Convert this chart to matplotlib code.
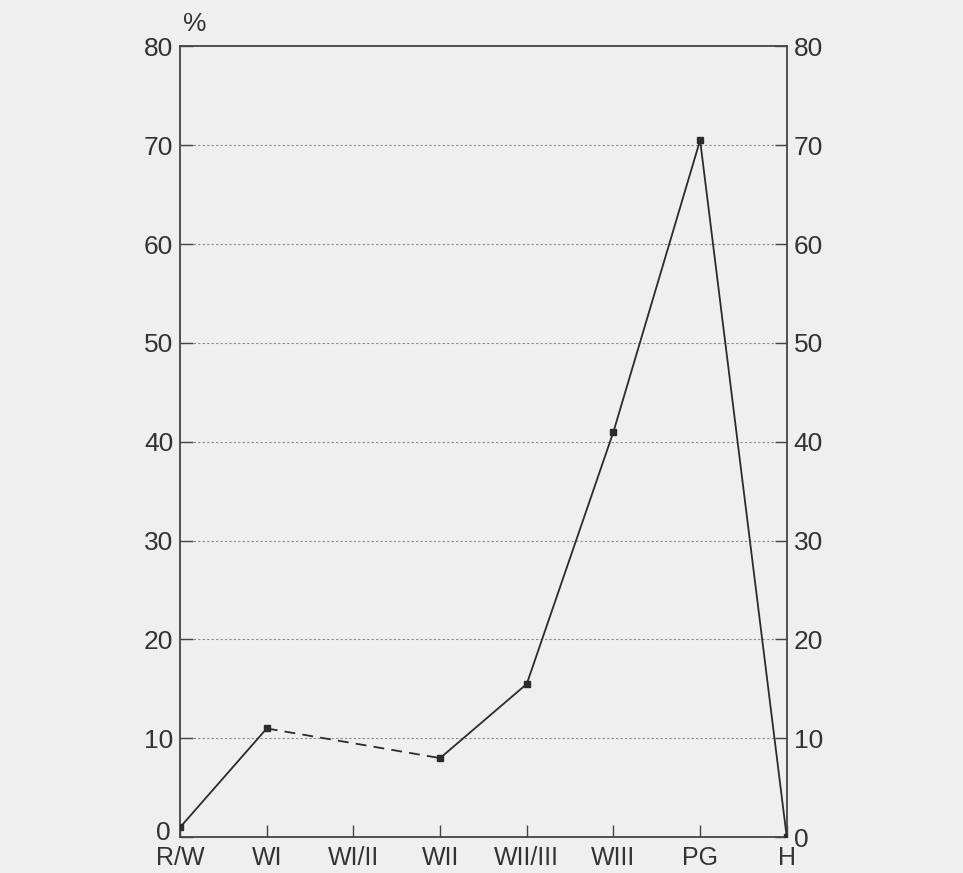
import matplotlib
matplotlib.use('Agg')
import matplotlib.pyplot as plt
from matplotlib.transforms import ScaledTranslation

plt.rcParams['font.family'] = ['Liberation Sans', 'DejaVu Sans']

# categories along the x axis
categories = ['R/W', 'WI', 'WI/II', 'WII', 'WII/III', 'WIII', 'PG', 'H']

# measured points (category, percent)
solid_a_cats = ['R/W', 'WI']
solid_a_vals = [1, 11]
dashed_cats = ['WI', 'WII']
dashed_vals = [11, 8]
solid_b_cats = ['WII', 'WII/III', 'WIII', 'PG', 'H']
solid_b_vals = [8, 15.5, 41, 70.5, 0]

y_ticks = [0, 10, 20, 30, 40, 50, 60, 70, 80]

bg = '#efefef'
ink = '#2b2b2b'

fig = plt.figure(figsize=(9.63, 8.73), dpi=100, facecolor=bg)
ax = fig.add_axes([0.187, 0.041, 0.630, 0.906], facecolor=bg)

pos = {c: i for i, c in enumerate(categories)}

# dotted grid lines
for v in y_ticks[1:-1]:
    ax.axhline(v, color='#8a8a8a', lw=0.8, ls=(0, (2, 2)), zorder=1)

ax.plot([pos[c] for c in solid_a_cats], solid_a_vals, color=ink, lw=1.3,
        marker='s', ms=4, zorder=3)
ax.plot([pos[c] for c in dashed_cats], dashed_vals, color=ink, lw=1.3,
        ls=(0, (6, 4)), zorder=3)
ax.plot([pos[c] for c in solid_b_cats], solid_b_vals, color=ink, lw=1.3,
        marker='s', ms=4, zorder=3)

ax.set_xlim(0, len(categories) - 1)
ax.set_ylim(0, 80)
ax.set_xticks(range(len(categories)))
ax.set_xticklabels(categories)
ax.set_yticks(y_ticks)

for s in ax.spines.values():
    s.set_color('#444444')
    s.set_linewidth(1.3)

ax.tick_params(axis='both', direction='in', length=9, width=1.0,
               colors='#444444', labelcolor='#333333')
ax.tick_params(axis='y', right=True, labelright=True, pad=5, labelsize=19)
ax.tick_params(axis='x', pad=6, labelsize=18)

# lift the left zero a touch so it clears the R/W label
zero = ax.yaxis.get_major_ticks()[0].label1
zero.set_transform(zero.get_transform() + ScaledTranslation(-2 / 72, 5 / 72, fig.dpi_scale_trans))

ax.text(0.03, 81.0, '%', fontsize=19, color='#333333', ha='left', va='bottom')

fig.savefig('out.png', dpi=100, facecolor=bg)
